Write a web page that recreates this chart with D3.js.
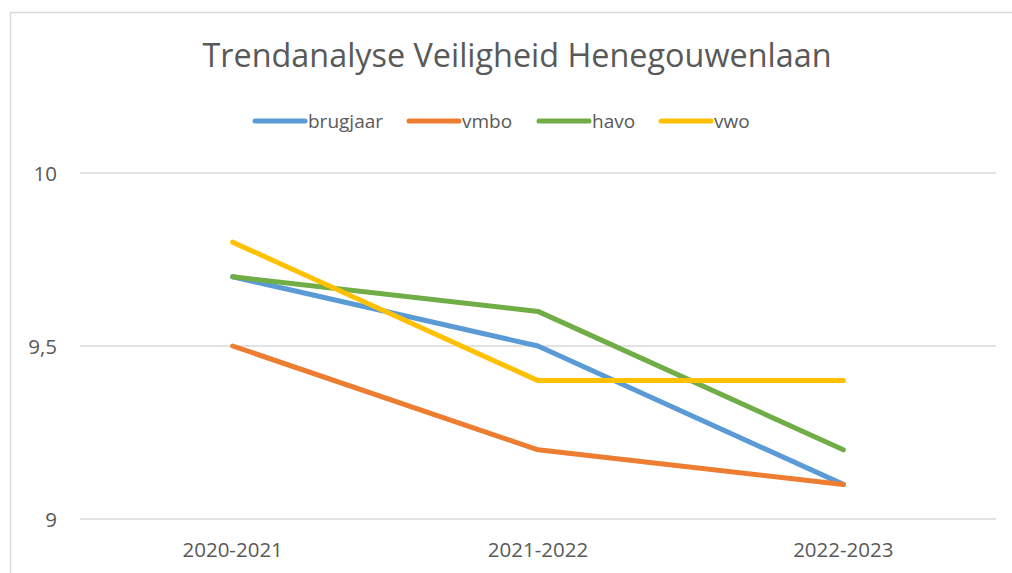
<!DOCTYPE html>
<html>
<head>
<meta charset="utf-8">
<script src="https://cdn.jsdelivr.net/npm/d3@7"></script>
<style>
  body { margin: 0; background: #fff; }
  svg text { font-family: "Open Sans", "Noto Sans", sans-serif; fill: #595959; }
</style>
</head>
<body>
<script>
// chart data
var years = ["2020-2021", "2021-2022", "2022-2023"];
var seriesNames = ["brugjaar", "vmbo", "havo", "vwo"];
var brugjaar = [9.7, 9.5, 9.1];
var vmbo = [9.5, 9.2, 9.1];
var havo = [9.7, 9.6, 9.2];
var vwo = [9.8, 9.4, 9.4];
var yTicks = [9, 9.5, 10];
var colors = ["#5B9BD5", "#ED7D31", "#70AD47", "#FFC000"];

var width = 1012, height = 573;

var svg = d3.select("body").append("svg")
    .attr("width", width)
    .attr("height", height);

// chart area border
svg.append("rect")
    .attr("x", 10.5).attr("y", 12.5)
    .attr("width", 1010).attr("height", 600)
    .attr("fill", "none")
    .attr("stroke", "#D9D9D9")
    .attr("stroke-width", 1.5);

// title
svg.append("text")
    .attr("x", 517).attr("y", 67)
    .attr("text-anchor", "middle")
    .attr("font-size", 33)
    .attr("textLength", 629)
    .attr("lengthAdjust", "spacingAndGlyphs")
    .text("Trendanalyse Veiligheid Henegouwenlaan");

var x = d3.scaleBand().domain(years).range([80, 996]);
var y = d3.scaleLinear().domain([9, 10]).range([519, 173]);

// gridlines
svg.selectAll(".grid")
    .data(yTicks)
    .enter()
    .append("line")
    .attr("class", "grid")
    .attr("x1", 80).attr("x2", 996)
    .attr("y1", function(d){ return y(d); })
    .attr("y2", function(d){ return y(d); })
    .attr("stroke", "#D9D9D9")
    .attr("stroke-width", 1.5);

// y labels
svg.selectAll(".ylab")
    .data(yTicks)
    .enter()
    .append("text")
    .attr("class", "ylab")
    .attr("x", 57)
    .attr("y", function(d){ return y(d) + 7.5; })
    .attr("text-anchor", "end")
    .attr("font-size", 20.5)
    .text(function(d){ return String(d).replace(".", ","); });

// x labels
svg.selectAll(".xlab")
    .data(years)
    .enter()
    .append("text")
    .attr("class", "xlab")
    .attr("x", function(d){ return x(d) + x.bandwidth() / 2; })
    .attr("y", 557)
    .attr("text-anchor", "middle")
    .attr("font-size", 20.5)
    .text(function(d){ return d; });

// lines
var allSeries = [brugjaar, vmbo, havo, vwo];
var line = d3.line()
    .x(function(d, i){ return x(years[i]) + x.bandwidth() / 2; })
    .y(function(d){ return y(d); });

svg.selectAll(".series")
    .data(allSeries)
    .enter()
    .append("path")
    .attr("class", "series")
    .attr("d", line)
    .attr("fill", "none")
    .attr("stroke", function(d, i){ return colors[i]; })
    .attr("stroke-width", 5)
    .attr("stroke-linecap", "round")
    .attr("stroke-linejoin", "round");

// legend
var legendX = [255, 409, 539, 661];
var legend = svg.selectAll(".legend")
    .data(seriesNames)
    .enter()
    .append("g")
    .attr("class", "legend")
    .attr("transform", function(d, i){ return "translate(" + legendX[i] + ",121)"; });

legend.append("line")
    .attr("x1", 0).attr("x2", 50)
    .attr("stroke", function(d, i){ return colors[i]; })
    .attr("stroke-width", 5)
    .attr("stroke-linecap", "round");

legend.append("text")
    .attr("x", 53).attr("y", 7)
    .attr("font-size", 19)
    .text(function(d){ return d; });
</script>
</body>
</html>
